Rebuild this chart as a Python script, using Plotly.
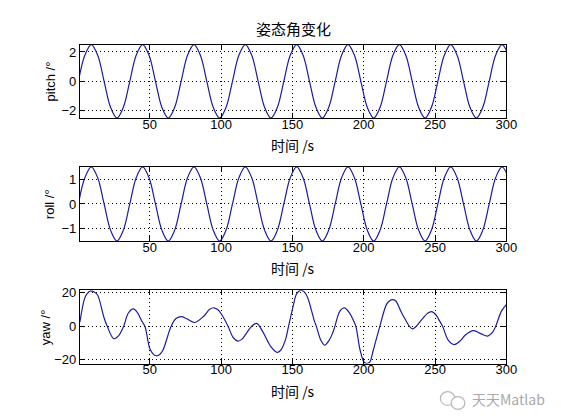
import plotly.graph_objects as go

# ---------------- data ----------------
time_s = [0, 4.5, 9, 13.5, 18, 22.5, 27, 31.5,
          36, 40.5, 45, 49.5, 54, 58.5, 63, 67.5,
          72, 76.5, 81, 85.5, 90, 94.5, 99, 103.5,
          108, 112.5, 117, 121.5, 126, 130.5, 135, 139.5,
          144, 148.5, 153, 157.5, 162, 166.5, 171, 175.5,
          180, 184.5, 189, 193.5, 198, 202.5, 207, 211.5,
          216, 220.5, 225, 229.5, 234, 238.5, 243, 247.5,
          252, 256.5, 261, 265.5, 270, 274.5, 279, 283.5,
          288, 292.5, 297, 301.5]

pitch_deg = [0, 1.77, 2.5, 1.77, 0, -1.77, -2.5, -1.77,
             0, 1.77, 2.5, 1.77, 0, -1.77, -2.5, -1.77,
             0, 1.77, 2.5, 1.77, 0, -1.77, -2.5, -1.77,
             0, 1.77, 2.5, 1.77, 0, -1.77, -2.5, -1.77,
             0, 1.77, 2.5, 1.77, 0, -1.77, -2.5, -1.77,
             0, 1.77, 2.5, 1.77, 0, -1.77, -2.5, -1.77,
             0, 1.77, 2.5, 1.77, 0, -1.77, -2.5, -1.77,
             0, 1.77, 2.5, 1.77, 0, -1.77, -2.5, -1.77,
             0, 1.77, 2.5, 1.77]

roll_deg = [0, 1.06, 1.5, 1.06, 0, -1.06, -1.5, -1.06,
            0, 1.06, 1.5, 1.06, 0, -1.06, -1.5, -1.06,
            0, 1.06, 1.5, 1.06, 0, -1.06, -1.5, -1.06,
            0, 1.06, 1.5, 1.06, 0, -1.06, -1.5, -1.06,
            0, 1.06, 1.5, 1.06, 0, -1.06, -1.5, -1.06,
            0, 1.06, 1.5, 1.06, 0, -1.06, -1.5, -1.06,
            0, 1.06, 1.5, 1.06, 0, -1.06, -1.5, -1.06,
            0, 1.06, 1.5, 1.06, 0, -1.06, -1.5, -1.06,
            0, 1.06, 1.5, 1.06]

yaw_t = [1, 4.1, 5.8, 8.7, 11, 13.3, 17.9, 20.2, 24.8, 28.2,
         31.7, 35, 38.5, 41.5, 44.3, 46.6, 50, 52.3, 54.6, 57,
         59.2, 65, 68.4, 72.3, 76, 81.5, 88, 92, 95, 98,
         100.3, 104.9, 108.3, 111.7, 114.5, 117.5, 121.4, 125, 128.8, 132.4,
         135, 139.3, 141.8, 145, 147.3, 150.5, 153, 155.8, 158.5, 160.8,
         165.4, 166.8, 170, 172.7, 175.7, 178, 179.8, 183.3, 186.5, 189.9,
         192.9, 194.5, 197.5, 200.2, 202.1, 204.3, 206.7, 211.3, 215.9, 218,
         220.5, 222.7, 225.5, 228.4, 234.2, 241, 244.5, 247.5, 250.7, 252.5,
         255.3, 259.4, 263.5, 267.5, 270.9, 274, 277.3, 282.4, 287, 290.4,
         292.7, 296.6, 300]
yaw_deg = [2.5, 16, 19.3, 21.2, 20.5, 18.9, 5.3, 0, -7.4, -5.5,
           0, 8, 10.5, 8, 3.3, 0, -13.3, -16.5, -17.6, -16.8,
           -14.3, 0, 4.7, 5.8, 4.5, 2.3, 6.2, 10.2, 11.1, 9.8,
           7.2, 0, -6.4, -8.8, -7.8, -4.5, 0, 1.8, -2.6, -8.4,
           -12.3, -15.6, -14.3, -8.4, 0, 12, 19.5, 21.6, 20.5, 17,
           3.3, 0, -8.4, -11.3, -8.4, -4.5, 0, 9.1, 11.1, 8.2,
           3.3, 0, -14.3, -21.3, -22.3, -21.3, -14.3, 0, 13, 15.2,
           16, 15, 10, 5.3, -1.5, 4.3, 7.6, 8.8, 6.8, 4.3,
           0, -8.4, -10.9, -8.8, -5.5, -3.5, -2.6, -4.5, -5.8, -3.5,
           0.4, 9.1, 13]

x_range = [1, 300]
x_ticks = [50, 100, 150, 200, 250, 300]
pitch_ticks = [-2, 0, 2]
roll_ticks = [-1, 0, 1]
yaw_ticks = [-20, 0, 20]

title_text = "姿态角变化"
x_label = "时间 /s"
y_labels = ["pitch /°", "roll /°", "yaw /°"]
watermark = "天天Matlab"

# ---------------- layout helpers ----------------
W, H = 561, 420
def px(x):
    return x / W
def py(y):
    return 1 - y / H

LINE_COLOR = "#1c1ca0"
TICK_FONT = dict(family="Liberation Sans, Arial, sans-serif", size=13, color="black")
CJK = "Noto Sans CJK SC, sans-serif"

x_dom = [px(73.3), px(508.3)]
boxes = [(32.3, 107.3), (157.3, 233.0), (283.3, 358.3)]

fig = go.Figure()
series = [(time_s, pitch_deg), (time_s, roll_deg), (yaw_t, yaw_deg)]
for i, (xs, ys) in enumerate(series):
    sfx = "" if i == 0 else str(i + 1)
    fig.add_trace(go.Scatter(
        x=xs, y=ys, mode="lines",
        line=dict(color=LINE_COLOR, width=1.2, shape="spline", smoothing=1.0),
        xaxis="x" + sfx, yaxis="y" + sfx, showlegend=False, hoverinfo="skip"))

y_ranges = [[-2.5, 2.5], [-1.5, 1.5], [-22.3, 21.6]]
y_tickvals = [pitch_ticks, roll_ticks, yaw_ticks]

common_axis = dict(
    showline=True, linecolor="black", linewidth=1, mirror="ticks",
    ticks="inside", ticklen=5, tickwidth=1, tickcolor="black",
    showgrid=True, gridcolor="black", gridwidth=1, griddash="1px,3px",
    zeroline=False, tickfont=TICK_FONT, fixedrange=True)

layout = dict(
    width=W, height=H, autosize=False,
    margin=dict(l=0, r=0, t=0, b=0),
    paper_bgcolor="white", plot_bgcolor="white",
    showlegend=False)

for i in range(3):
    sfx = "" if i == 0 else str(i + 1)
    top, bot = boxes[i]
    layout["xaxis" + sfx] = dict(
        common_axis, domain=x_dom, range=x_range, tickvals=x_ticks,
        anchor="y" + sfx, ticklabelstandoff=-6)
    layout["yaxis" + sfx] = dict(
        common_axis, domain=[py(bot), py(top)], range=y_ranges[i],
        tickvals=y_tickvals[i], anchor="x" + sfx)

fig.update_layout(**layout)

annotations = []
annotations.append(dict(text=title_text, x=px(290.8), y=py(15.8), xref="paper", yref="paper",
                        xanchor="center", yanchor="middle", showarrow=False,
                        font=dict(family=CJK, size=15, color="black")))
ylab_x = [43, 43, 39]
for i in range(3):
    top, bot = boxes[i]
    annotations.append(dict(text=x_label, x=px(290.8), y=py(bot + 27.5), xref="paper", yref="paper",
                            xanchor="center", yanchor="middle", showarrow=False,
                            font=dict(family=CJK, size=14, color="black")))
    annotations.append(dict(text=y_labels[i], x=px(ylab_x[i]), y=py((top + bot) / 2),
                            xref="paper", yref="paper", textangle=-90,
                            xanchor="center", yanchor="middle", showarrow=False,
                            font=dict(family="Liberation Sans, Arial, sans-serif", size=13, color="black")))
annotations.append(dict(text=watermark, x=px(471.5), y=py(394), xref="paper", yref="paper",
                        xanchor="left", yanchor="middle", showarrow=False,
                        font=dict(family="Noto Sans CJK SC, Liberation Sans, sans-serif", size=14, color="#a9a9a9")))
fig.update_layout(annotations=annotations)

# small WeChat-like watermark icon
fig.add_shape(type="circle", xref="paper", yref="paper",
              x0=px(441), x1=px(456), y0=py(401), y1=py(387),
              line=dict(color="#b8b8b8", width=1.2), fillcolor="rgba(0,0,0,0)")
fig.add_shape(type="circle", xref="paper", yref="paper",
              x0=px(452), x1=px(466), y0=py(405), y1=py(392),
              line=dict(color="#b8b8b8", width=1.2), fillcolor="white")

fig.write_html("out.html")
